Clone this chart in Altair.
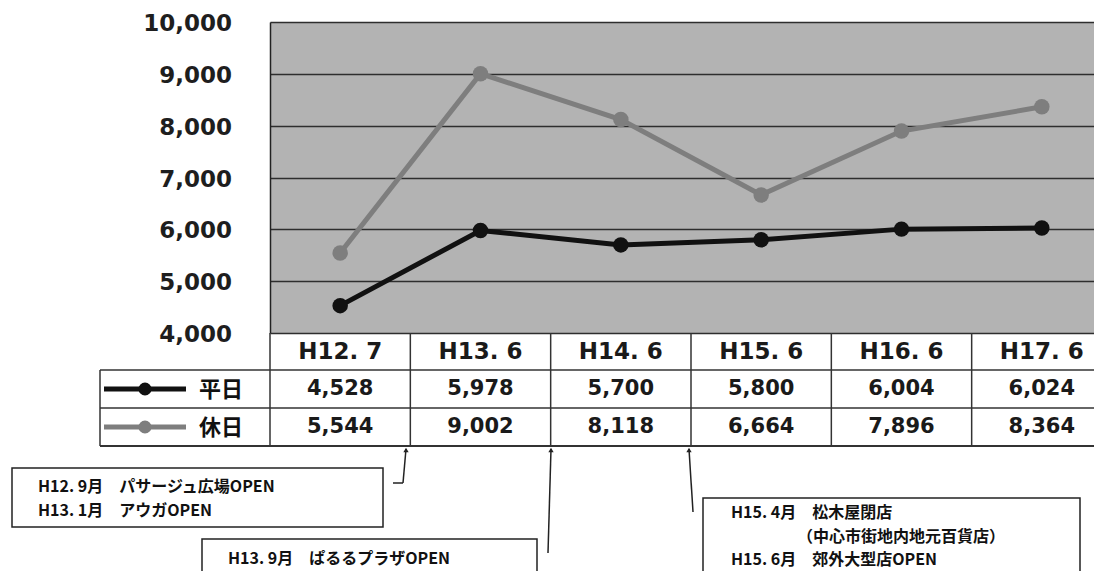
import altair as alt
import pandas as pd

# ---------------- data ----------------
periods = ["H12. 7", "H13. 6", "H14. 6", "H15. 6", "H16. 6", "H17. 6"]
weekday = [4528, 5978, 5700, 5800, 6004, 6024]
holiday = [5544, 9002, 8118, 6664, 7896, 8364]
series_names = ["平日", "休日"]
series_colors = ["#111111", "#7e7e7e"]
y_ticks = [4000, 5000, 6000, 7000, 8000, 9000, 10000]

note_box1 = ["H12. 9月\u3000パサージュ広場OPEN", "H13. 1月\u3000アウガOPEN"]
note_box2 = ["H13. 9月\u3000ぱるるプラザOPEN"]
note_box3 = ["H15. 4月\u3000松木屋閉店", "（中心市街地内地元百貨店）", "H15. 6月\u3000郊外大型店OPEN"]

# ---------------- layout (page pixels) ----------------
OX, OY = 270, 22          # plot origin on the page
W, H = 824, 311           # plot area kept inside the window
BAND_RANGE = 842          # six table columns, the last one runs past the window
SVG_W, SVG_H = 1086, 563  # whole chart, so the page never overflows


def px(x):
    return x - OX


def py(y):
    return y - OY


one = pd.DataFrame({"k": [0]})

rows = []
for s, vals in zip(series_names, [weekday, holiday]):
    for p, v in zip(periods, vals):
        rows.append({"period": p, "value": v, "series": s})
df = pd.DataFrame(rows)
df_periods = pd.DataFrame({"period": periods})
df_ticks = pd.DataFrame({"value": y_ticks})


def xenc(**kw):
    return alt.X(
        "period:N",
        sort=periods,
        scale=alt.Scale(type="band", domain=periods, range=[0, BAND_RANGE],
                        paddingInner=0, paddingOuter=0),
        axis=None,
        **kw,
    )


y_scale = alt.Scale(domain=[4000, 10000], nice=False, zero=False)
y_enc = alt.Y(
    "value:Q",
    scale=y_scale,
    axis=alt.Axis(
        values=y_ticks, title=None, grid=True, labels=False,
        gridColor="#2e2e2e", gridWidth=1.5, ticks=False,
        domain=True, domainColor="#222222", domainWidth=1.5,
    ),
)
color_enc = alt.Color("series:N", scale=alt.Scale(domain=series_names, range=series_colors),
                      legend=None)

lines = alt.Chart(df).mark_line(strokeWidth=5).encode(x=xenc(), y=y_enc, color=color_enc)
points = alt.Chart(df).mark_circle(size=240, opacity=1).encode(x=xenc(), y="value:Q", color=color_enc)

# y tick labels, placed through the y scale
y_labels = alt.Chart(df_ticks).mark_text(
    align="right", baseline="middle", font="DejaVu Sans", fontWeight="bold",
    fontSize=23, color="#1e1e1e", dy=2).encode(
    x=alt.value(px(232)), y="value:Q", text=alt.Text("value:Q", format=",d"))


def seg(x1, y1, x2, y2, color="#333333", width=1.5):
    return alt.Chart(one).mark_rule(color=color, strokeWidth=width).encode(
        x=alt.value(px(x1)), x2=alt.value(px(x2)),
        y=alt.value(py(y1)), y2=alt.value(py(y2)))


def label(txt, x, y, size=16, align="left", font="Noto Sans CJK JP", weight="bold"):
    return alt.Chart(one).mark_text(
        text=txt, align=align, baseline="middle", font=font, fontWeight=weight,
        fontSize=size, color="#111111").encode(x=alt.value(px(x)), y=alt.value(py(y)))


def box(x1, y1, x2, y2):
    return alt.Chart(one).mark_rect(fill="white", stroke="#222222", strokeWidth=1.5).encode(
        x=alt.value(px(x1)), x2=alt.value(px(x2)),
        y=alt.value(py(y1)), y2=alt.value(py(y2)))


def arrow(x, y):
    return alt.Chart(one).mark_point(shape="triangle-up", filled=True, size=28,
                                     color="#222222", opacity=1).encode(
        x=alt.value(px(x)), y=alt.value(py(y)))


# ---------------- data table ----------------
row_y = [389, 427]
header = alt.Chart(df_periods).mark_text(
    font="DejaVu Sans", fontWeight="bold", fontSize=23, color="#1a1a1a",
    baseline="middle").encode(
    x=xenc(), y=alt.value(py(352)), text="period:N")

value_rows = []
for s, ry in zip(series_names, row_y):
    value_rows.append(
        alt.Chart(df[df.series == s]).mark_text(
            font="DejaVu Sans", fontWeight="bold", fontSize=21, color="#1a1a1a",
            baseline="middle").encode(
            x=xenc(), y=alt.value(py(ry)), text=alt.Text("value:Q", format=",d")))

dividers = alt.Chart(df_periods).mark_rule(color="#333333", strokeWidth=1.5).encode(
    x=xenc(bandPosition=0), y=alt.value(py(333)), y2=alt.value(py(446)))

table_lines = [
    seg(100, 370, 1115, 370),
    seg(100, 408, 1115, 408),
    seg(100, 446, 1115, 446, width=2),
    seg(100, 370, 100, 446),
]

legend_parts = []
for s, c, ry in zip(series_names, series_colors, row_y):
    legend_parts.append(seg(104, ry, 186, ry, color=c, width=5))
    legend_parts.append(alt.Chart(one).mark_circle(size=170, color=c, opacity=1).encode(
        x=alt.value(px(145)), y=alt.value(py(ry))))
    legend_parts.append(label(s, 221, ry + 1, size=22, align="center"))

# ---------------- annotations ----------------
notes = [
    box(12, 468, 383, 527),
    label(note_box1[0], 38, 486.5),
    label(note_box1[1], 38, 510.5),
    seg(393, 483, 403, 483, color="#222222"),
    seg(403, 483, 406, 449, color="#222222"),
    arrow(406, 450),
    box(202, 539, 537, 600),
    label(note_box2[0], 228, 559),
    seg(548, 553, 551, 449, color="#222222"),
    arrow(551, 450),
    box(703, 498, 1080, 600),
    label(note_box3[0], 731, 513),
    label(note_box3[1], 797, 536.5),
    label(note_box3[2], 731, 560),
    seg(693, 512, 689, 449, color="#222222"),
    arrow(689, 450),
]

chart = alt.layer(
    lines, points, y_labels, header, *value_rows, dividers, *table_lines,
    *legend_parts, *notes
).properties(
    width=W, height=H,
    autosize=alt.AutoSizeParams(type="none"),
    padding={"left": OX - 8, "top": OY - 8, "right": SVG_W - (OX - 8) - W,
             "bottom": SVG_H - (OY - 8) - H},
    background="white",
).configure_view(fill="#b3b3b3", stroke="transparent")

chart.save("out.html", embed_options={"renderer": "svg", "actions": False})
